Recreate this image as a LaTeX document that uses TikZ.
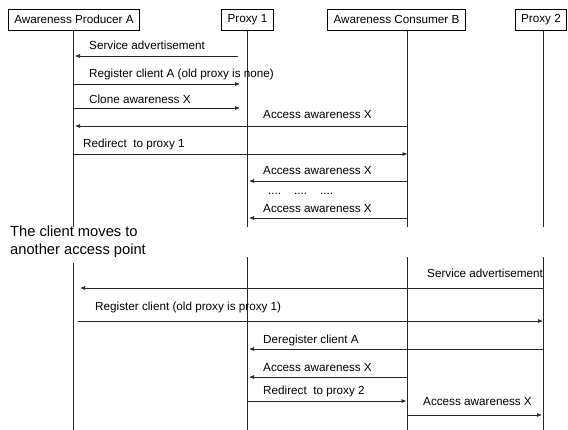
\documentclass[tikz,border=0pt]{standalone}
\usepackage{fontspec}
\setmainfont{Liberation Sans}
\usepackage{tikz}
\usetikzlibrary{arrows.meta}
\tikzset{
  Linie/.style={line width=0.7pt, draw=black!85}, % für Lebenslinien
  Kasten/.style={draw, line width=0.8pt, inner xsep=6pt, minimum height=21pt,
    font=\fontsize{11.7}{13}\selectfont}, % für Instanzen
  Nachricht/.style 2 args={Linie, ->, shorten <=#1, shorten >=#2}, % für Nachrichten
  Beschriftung/.style={anchor=base west, inner sep=0pt,
    font=\fontsize{11.7}{13}\selectfont},
  Hinweis/.style={anchor=north west, inner sep=0pt, align=left,
    font=\fontsize{14.7}{18}\selectfont}
}

\begin{document}
\begin{tikzpicture}[x=1pt, y=-1pt,
>={Latex[length=5pt,width=4pt]} % Voreinstellung für Pfeilspitzen
]
\useasboundingbox (0,0) rectangle (568,430);

%Instanzen
\node[Kasten] (PA) at (74,19.5) {Awareness Producer A};
\node[Kasten] (P1) at (247.5,19.5) {Proxy 1};
\node[Kasten] (CB) at (396.5,19.5) {Awareness Consumer B};
\node[Kasten] (P2) at (541,19.5) {Proxy 2};

%Lebenslinien
\coordinate (LA) at (73,0);
\coordinate (LP1) at (247,0);
\coordinate (LB) at (407.5,0);
\coordinate (LP2) at (543,0);
\coordinate (Bruch) at (0,227);
\coordinate (Weiter) at (0,257);
\coordinate (Ende) at (0,430);

\foreach \l/\k in {LA/PA, LP1/P1, LB/CB, LP2/P2}
  \draw[Linie] (\l |- \k.south) -- (\l |- Bruch);
\draw[Linie] (LA |- 0,263) -- (LA |- Ende);
\foreach \l in {LP1, LB, LP2}
  \draw[Linie] (\l |- Weiter) -- (\l |- Ende);

%Nachrichten vor dem Wechsel
\draw[Nachricht={9pt}{2pt}] (LP1 |- 0,56) -- (LA |- 0,56);
\draw[Nachricht={0pt}{7pt}] (LA |- 0,84) -- (LP1 |- 0,84);
\draw[Nachricht={0pt}{7pt}] (LA |- 0,108) -- (LP1 |- 0,108);
\draw[Nachricht={0pt}{2pt}] (LB |- 0,126) -- (LA |- 0,126);
\draw[Nachricht={0pt}{0pt}] (LA |- 0,154) -- (LB |- 0,154);
\draw[Nachricht={0pt}{2pt}] (LB |- 0,181) -- (LP1 |- 0,181);
\draw[Nachricht={0pt}{2pt}] (LB |- 0,218) -- (LP1 |- 0,218);

\node[Beschriftung] (t1) at (89,50) {Service advertisement};
\node[Beschriftung] (t2) at (89,78) {Register client A (old proxy is none)};
\node[Beschriftung] (t3) at (89,104) {Clone awareness X};
\node[Beschriftung] (t4) at (263,119) {Access awareness X};
\node[Beschriftung] (t5) at (83,148) {Redirect\ \ to proxy 1};
\node[Beschriftung] (t6) at (263,175) {Access awareness X};
\node[Beschriftung] (t7) at (268,195) {....\hspace{13pt}....\hspace{13pt}....};
\node[Beschriftung] (t8) at (263,213) {Access awareness X};

%Wechsel des Zugangspunkts
\node[Hinweis] (Umzug) at (10,226) {The client moves to\\another access point};

%Nachrichten nach dem Wechsel
\draw[Nachricht={0pt}{7pt}] (LP2 |- 0,288) -- (LA |- 0,288);
\draw[Nachricht={5pt}{0pt}] (LA |- 0,321) -- (LP2 |- 0,321);
\draw[Nachricht={0pt}{2pt}] (LP2 |- 0,349) -- (LP1 |- 0,349);
\draw[Nachricht={0pt}{2pt}] (LB |- 0,377) -- (LP1 |- 0,377);
\draw[Nachricht={0pt}{1pt}] (LP1 |- 0,401) -- (LB |- 0,401);
\draw[Nachricht={0pt}{1pt}] (LB |- 0,415) -- (LP2 |- 0,415);

\node[Beschriftung] (t9) at (427,278) {Service advertisement};
\node[Beschriftung] (t10) at (95,311) {Register client (old proxy is proxy 1)};
\node[Beschriftung] (t11) at (263,344) {Deregister client A};
\node[Beschriftung] (t12) at (263,372) {Access awareness X};
\node[Beschriftung] (t13) at (263,395) {Redirect\ \ to proxy 2};
\node[Beschriftung] (t14) at (423,406) {Access awareness X};

\end{tikzpicture}
\end{document}
